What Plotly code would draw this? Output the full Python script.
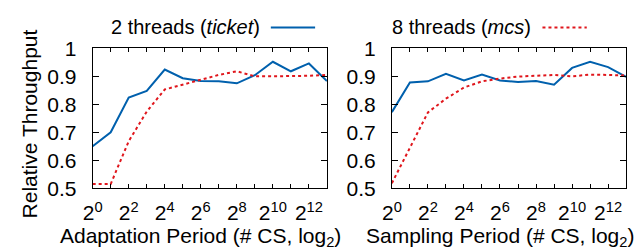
import plotly.graph_objects as go

x_exp = list(range(14))
adapt_ticket = [0.65, 0.70, 0.824, 0.848, 0.924, 0.893, 0.883, 0.882, 0.875, 0.904, 0.952, 0.918, 0.946, 0.883]
adapt_mcs = [0.515, 0.515, 0.668, 0.774, 0.853, 0.870, 0.889, 0.905, 0.918, 0.900, 0.900, 0.900, 0.902, 0.905]
samp_ticket = [0.772, 0.878, 0.882, 0.909, 0.885, 0.906, 0.885, 0.880, 0.883, 0.870, 0.930, 0.952, 0.933, 0.898]
samp_mcs = [0.518, 0.645, 0.771, 0.820, 0.860, 0.882, 0.892, 0.899, 0.903, 0.905, 0.900, 0.906, 0.905, 0.903]

xtick_vals = list(range(14))
xtick_text = [f"2<sup>{v}</sup>" if v % 2 == 0 else "" for v in xtick_vals]
ytick_vals = [0.5, 0.6, 0.7, 0.8, 0.9, 1.0]
ytick_text = ["0.5", "0.6", "0.7", "0.8", "0.9", "1"]

BLUE = "#0060ad"
RED = "#e0161c"
FONT = "Liberation Sans, Arial, sans-serif"
W, H = 634, 251

fig = go.Figure()
fig.add_trace(go.Scatter(x=x_exp, y=adapt_ticket, mode="lines", line=dict(color=BLUE, width=2), xaxis="x", yaxis="y", showlegend=False))
fig.add_trace(go.Scatter(x=x_exp, y=adapt_mcs, mode="lines", line=dict(color=RED, width=2, dash="dot"), xaxis="x", yaxis="y", showlegend=False))
fig.add_trace(go.Scatter(x=x_exp, y=samp_ticket, mode="lines", line=dict(color=BLUE, width=2), xaxis="x2", yaxis="y2", showlegend=False))
fig.add_trace(go.Scatter(x=x_exp, y=samp_mcs, mode="lines", line=dict(color=RED, width=2, dash="dot"), xaxis="x2", yaxis="y2", showlegend=False))

ydom = [1 - 194 / H, 1 - 40 / H]
xcommon = dict(range=[0, 13], tickvals=xtick_vals, ticktext=xtick_text, ticks="inside", ticklen=4,
               mirror="ticks", showline=True, linecolor="black", linewidth=1, showgrid=False, zeroline=False,
               tickfont=dict(size=21, color="black", family=FONT), tickcolor="black", ticklabelstandoff=6)
ycommon = dict(range=[0.5, 1.0], tickvals=ytick_vals, ticktext=ytick_text, ticks="inside", ticklen=6,
               mirror="ticks", showline=True, linecolor="black", linewidth=1, showgrid=False, zeroline=False,
               tickfont=dict(size=21, color="black", family=FONT), tickcolor="black", ticklabelstandoff=11)

fig.update_layout(
    width=W, height=H,
    margin=dict(l=0, r=0, t=0, b=0),
    plot_bgcolor="white", paper_bgcolor="white",
    font=dict(family=FONT, color="black"),
    xaxis=dict(domain=[84 / W, 322 / W], anchor="y", **xcommon),
    yaxis=dict(domain=ydom, anchor="x", **ycommon),
    xaxis2=dict(domain=[388 / W, 626 / W], anchor="y2", **xcommon),
    yaxis2=dict(domain=ydom, anchor="x2", **ycommon),
)

annots = [
    dict(text="2 threads (<i>ticket</i>)", x=102 / W, y=1 - 17 / H, xanchor="left", yanchor="middle", font=dict(size=20)),
    dict(text="8 threads (<i>mcs</i>)", x=387 / W, y=1 - 17 / H, xanchor="left", yanchor="middle", font=dict(size=20)),
    dict(text="Adaptation Period (# CS, log<sub>2</sub>)", x=194 / W, y=0, yshift=-11, xanchor="center", yanchor="bottom", font=dict(size=21)),
    dict(text="Sampling Period (# CS, log<sub>2</sub>)", x=498 / W, y=0, yshift=-11, xanchor="center", yanchor="bottom", font=dict(size=21)),
    dict(text="Relative Throughput", x=20 / W, y=1 - 123 / H, xanchor="center", yanchor="middle", textangle=-90, font=dict(size=21)),
]
for a in annots:
    a.update(xref="paper", yref="paper", showarrow=False, borderpad=0)
    a["font"].update(family=FONT, color="black")
fig.update_layout(annotations=annots)

fig.add_shape(type="line", xref="paper", yref="paper", x0=265 / W, x1=310 / W, y0=1 - 17 / H, y1=1 - 17 / H,
              line=dict(color=BLUE, width=2))
fig.add_shape(type="line", xref="paper", yref="paper", x0=541 / W, x1=586 / W, y0=1 - 17 / H, y1=1 - 17 / H,
              line=dict(color=RED, width=2, dash="dot"))

fig.write_html("out.html", config={"displayModeBar": False},
               post_script="document.body.style.margin='0';document.body.style.padding='0';")
